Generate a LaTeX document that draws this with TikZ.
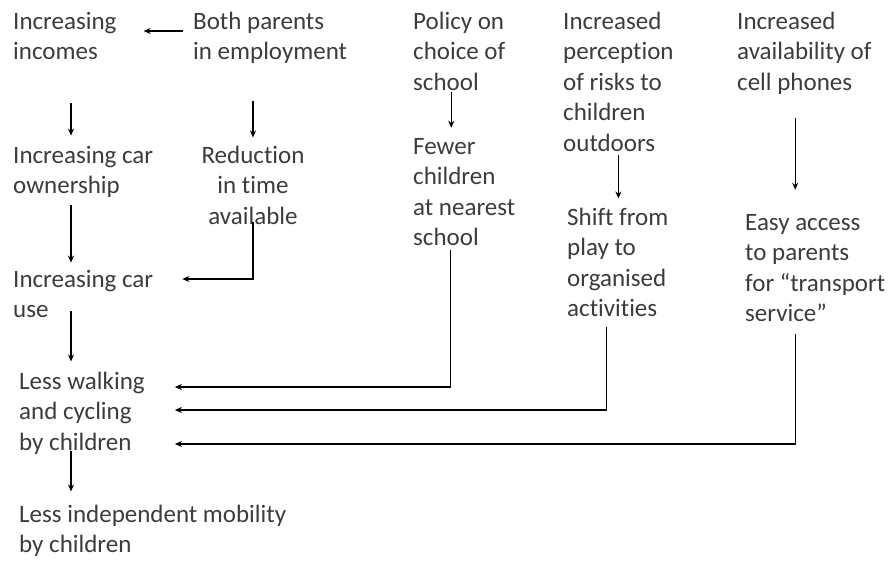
\documentclass[tikz,border=0pt]{standalone}
\usepackage{fontspec}
\setmainfont{Carlito}[Ligatures=NoCommon]
\usetikzlibrary{arrows.meta}
\definecolor{txtgray}{RGB}{60,60,60}
\tikzset{
  factor/.style={anchor=base west, align=left, inner sep=0pt, text=txtgray,
    font=\fontsize{25}{30.5}\selectfont},
  link/.style={line width=1.3pt, -{Stealth[length=7pt,width=6pt]}}
}
\begin{document}
\begin{tikzpicture}[x=1pt,y=-1pt]
        \useasboundingbox (0,0) rectangle (890,565);
        \coordinate (lcol) at (71,0);
        
        % nodes sit on the baseline of their last line
        \node[factor] (inc) at (13,59.5) {Increasing\\incomes};
        \node[factor] (both) at (193,59.5) {Both parents\\in employment};
        \node[factor] (carown) at (13,193.5) {Increasing car\\ownership};
        \node[factor, anchor=base, align=center] (reduc) at (253,224) {Reduction\\in time\\available};
        \node[factor] (caruse) at (13,317.5) {Increasing car\\use};
        \node[factor] (lesswalk) at (19,450) {Less walking\\and cycling\\by children};
        \node[factor] (lessind) at (19,552.5) {Less independent mobility\\by children};
        \node[factor] (policy) at (413,90) {Policy on\\choice of\\school};
        \node[factor] (fewer) at (413,245.5) {Fewer\\children\\at nearest\\school};
        \node[factor] (percep) at (563,151) {Increased\\perception\\of risks to\\children\\outdoors};
        \node[factor] (shift) at (567,316.5) {Shift from\\play to\\organised\\activities};
        \node[factor] (cell) at (737,90) {Increased\\availability of\\cell phones};
        \node[factor] (easy) at (745,321.5) {Easy access\\to parents\\for “transport\\service”};
        
        \draw[link, shorten <=10pt, shorten >=27pt] ([yshift=28.5pt]both.base west) -- ([yshift=28.5pt]inc.base east);
        \draw[link, shorten <=43pt, shorten >=10pt] (inc.south -| lcol) -- (carown.north -| lcol);
        \draw[link, shorten <=37pt, shorten >=8pt] (both.south -| reduc.north) -- (reduc.north);
        \draw[link, shorten <=7pt, shorten >=7pt] (carown.south -| lcol) -- (caruse.north -| lcol);
        \draw[link, shorten <=-2pt, shorten >=29pt] (reduc.south) |- ([yshift=38.5pt]caruse.base east);
        \draw[link, shorten <=-7pt, shorten >=10pt] (caruse.south -| lcol) -- (lesswalk.north -| lcol);
        \draw[link, shorten <=-3pt, shorten >=13pt] (lesswalk.south -| lcol) -- (lessind.north -| lcol);
        
        \draw[link, shorten <=2pt, shorten >=10pt] ([xshift=-8pt]policy.south) -- ([xshift=-8pt]policy.south |- fewer.north);
        \draw[link, shorten <=4pt, shorten >=9pt] (percep.south) -- (percep.south |- shift.north);
        \draw[link, shorten <=24pt, shorten >=24pt] ([xshift=-20pt]easy.north |- cell.south) -- ([xshift=-20pt]easy.north);
        
        \draw[link, shorten <=4pt, shorten >=30pt] ([xshift=-14pt]fewer.south) |- ([yshift=63pt]lesswalk.base east);
        \draw[link, shorten <=10pt, shorten >=30pt] ([xshift=-11pt]shift.south) |- ([yshift=40pt]lesswalk.base east);
        \draw[link, shorten <=12pt, shorten >=30pt] ([xshift=-20pt]easy.south) |- ([yshift=6pt]lesswalk.base east);
    \end{tikzpicture}
\end{document}
